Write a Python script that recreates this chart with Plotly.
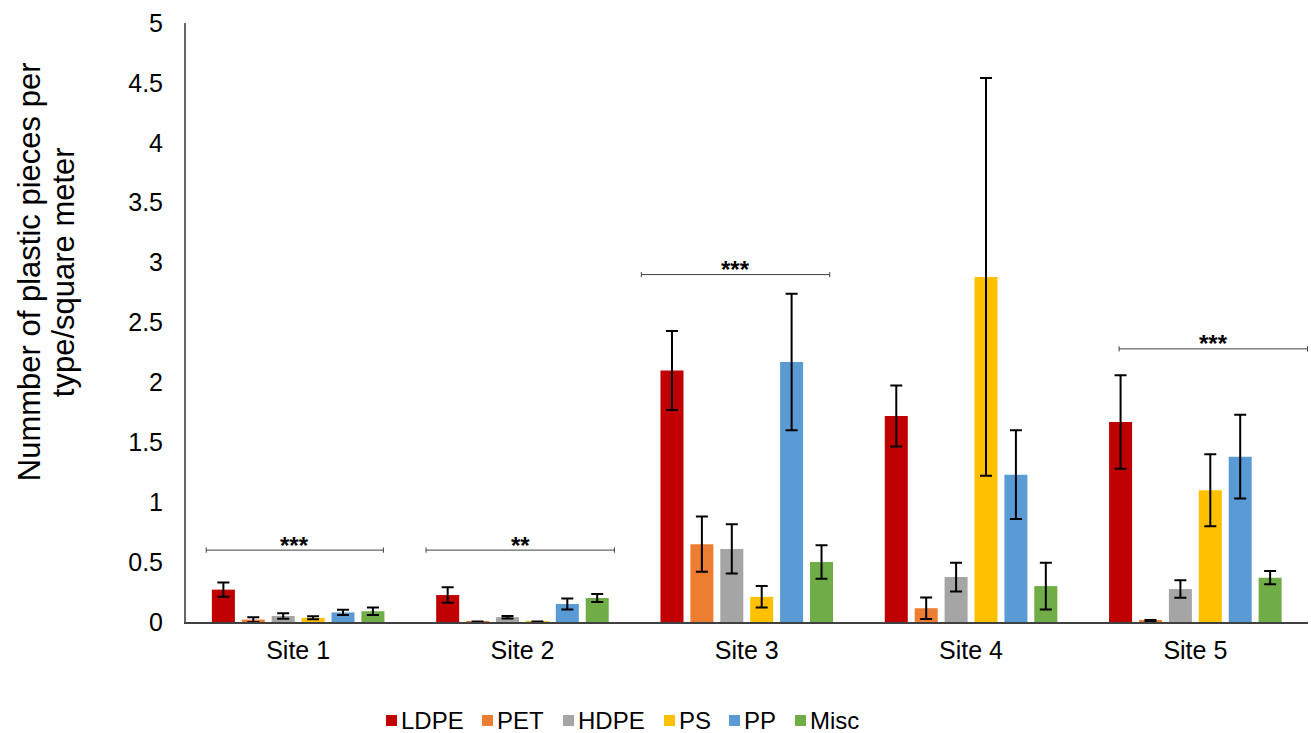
import plotly.graph_objects as go

sites = ["Site 1", "Site 2", "Site 3", "Site 4", "Site 5"]
series = ["LDPE", "PET", "HDPE", "PS", "PP", "Misc"]
colors = ["#C00000", "#ED7D31", "#A5A5A5", "#FFC000", "#5B9BD5", "#70AD47"]

ldpe = [0.27, 0.225, 2.10, 1.72, 1.67]
ldpe_err = [0.06, 0.065, 0.33, 0.255, 0.39]
pet = [0.02, 0.004, 0.65, 0.115, 0.012]
pet_err = [0.02, 0.0, 0.23, 0.09, 0.004]
hdpe = [0.05, 0.04, 0.61, 0.375, 0.275]
hdpe_err = [0.022, 0.01, 0.205, 0.12, 0.073]
ps = [0.035, 0.004, 0.21, 2.88, 1.10]
ps_err = [0.012, 0.0, 0.09, 1.66, 0.30]
pp = [0.08, 0.15, 2.17, 1.23, 1.38]
pp_err = [0.022, 0.046, 0.57, 0.37, 0.35]
misc = [0.09, 0.20, 0.50, 0.30, 0.37]
misc_err = [0.032, 0.033, 0.14, 0.195, 0.055]

values = [ldpe, pet, hdpe, ps, pp, misc]
errors = [ldpe_err, pet_err, hdpe_err, ps_err, pp_err, misc_err]

# significance brackets: (x start, x end in category units, y level, label)
bracket_x0 = [-0.41, 0.57, 1.53, 3.66]
bracket_x1 = [0.38, 1.41, 2.37, 4.50]
bracket_y = [0.6, 0.6, 2.9, 2.28]
bracket_lbl = ["***", "**", "***", "***"]

yticks = [0, 0.5, 1, 1.5, 2, 2.5, 3, 3.5, 4, 4.5, 5]
yticklabels = ["0", "0.5", "1", "1.5", "2", "2.5", "3", "3.5", "4", "4.5", "5"]
ytitle_lines = ["Nummber of plastic pieces per", "type/square meter"]

FONT = "Liberation Sans, Arial, Helvetica, sans-serif"

# layout geometry (pixels)
W, H = 1311, 733
ML, MR, MT, MB = 186, 3, 23, 111
PW, PH = W - ML - MR, H - MT - MB
legend_sq_px = [386, 482, 563, 664, 729, 795]
legend_cy_px = 720


def px_x(px):
    return (px - ML) / PW


def px_y(py):
    return (H - MB - py) / PH


fig = go.Figure()
for name, vals, errs, col in zip(series, values, errors, colors):
    fig.add_trace(go.Bar(
        name=name, x=sites, y=vals, marker_color=col,
        marker_line_width=0, showlegend=False,
        error_y=dict(type="data", array=errs, visible=True, color="black",
                     thickness=2, width=6),
    ))

cap = 0.022
for x0, x1, yv, lbl in zip(bracket_x0, bracket_x1, bracket_y, bracket_lbl):
    fig.add_shape(type="line", xref="x", yref="y", x0=x0, x1=x1, y0=yv, y1=yv,
                  line=dict(color="#404040", width=1))
    for xe in (x0, x1):
        fig.add_shape(type="line", xref="x", yref="y", x0=xe, x1=xe,
                      y0=yv - cap, y1=yv + cap, line=dict(color="#404040", width=1))
    fig.add_annotation(x=(x0 + x1) / 2, y=yv, xref="x", yref="y", text="<b>" + lbl + "</b>",
                       showarrow=False, yanchor="middle", yshift=5,
                       font=dict(size=24, color="black", family=FONT))

for xp, line in zip([29, 63], ytitle_lines):
    fig.add_annotation(x=px_x(xp), y=0.584, xref="paper", yref="paper", text=line,
                       textangle=-90, showarrow=False, xanchor="center", yanchor="middle",
                       font=dict(size=31, color="black", family=FONT))

# legend (drawn manually for exact spacing)
for name, col, sx in zip(series, colors, legend_sq_px):
    fig.add_shape(type="rect", xref="paper", yref="paper",
                  x0=px_x(sx), x1=px_x(sx + 11),
                  y0=px_y(legend_cy_px + 6), y1=px_y(legend_cy_px - 5),
                  fillcolor=col, line=dict(width=0))
    fig.add_annotation(x=px_x(sx + 13), y=px_y(legend_cy_px), xref="paper", yref="paper",
                       text=name, showarrow=False, xanchor="left", yanchor="middle",
                       font=dict(size=24, color="black", family=FONT))

fig.update_layout(
    width=W, height=H,
    margin=dict(l=ML, r=MR, t=MT, b=MB, autoexpand=False),
    plot_bgcolor="white", paper_bgcolor="white",
    barmode="group", bargap=0.2, bargroupgap=0.23,
    font=dict(family=FONT, color="black", size=25),
    showlegend=False,
    xaxis=dict(showline=True, linecolor="#404040", linewidth=2, ticks="",
               tickfont=dict(size=25), showgrid=False, ticklabelstandoff=5),
    yaxis=dict(range=[0, 5], tickvals=yticks, ticktext=yticklabels, showgrid=False,
               showline=True, linecolor="#666666", linewidth=2,
               zeroline=False, tickfont=dict(size=25), ticks="",
               ticklabelstandoff=16),
)

fig.write_html("out.html", config={"displayModeBar": False},
               post_script="document.body.style.margin='0';document.body.style.overflow='hidden';")
